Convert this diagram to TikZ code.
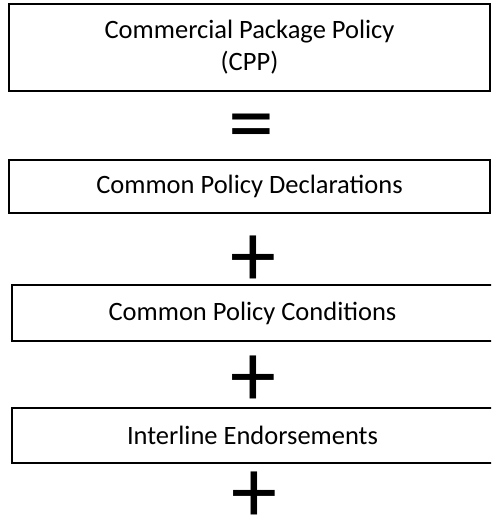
\documentclass[tikz,border=0pt]{standalone}
\usepackage{fontspec}
\setmainfont{Carlito}
\usetikzlibrary{positioning}

\begin{document}
\begin{tikzpicture}[x=1pt, y=-1pt, line width=1.6pt,
    box/.style={draw, rectangle, minimum width=481pt, inner sep=0pt,
        font=\fontsize{26.5}{32}\selectfont, align=center},
    sign/.style={inner sep=0pt, font=\fontsize{92}{92}\selectfont}]
    \clip (0,0) rectangle (491,518);
        \node[box, minimum height=87pt] (cpp) at (249.5,47.5) {Commercial Package Policy\\(CPP)};
        \node[sign] (equals) at (251,134) {=};
        \node[box, minimum height=53pt] (decl) at (249.5,186.5) {Common Policy Declarations};
        \node[sign] (plusa) at (253,261) {+};
        \node[box, minimum height=56pt] (cond) at (252.5,313) {Common Policy Conditions};
        \node[sign] (plusb) at (253,381) {+};
        \node[box, minimum height=55pt] (endo) at (252.5,435.5) {Interline Endorsements};
        \node[sign] (plusc) at (254,497.5) {+};
    \end{tikzpicture}
\end{document}
